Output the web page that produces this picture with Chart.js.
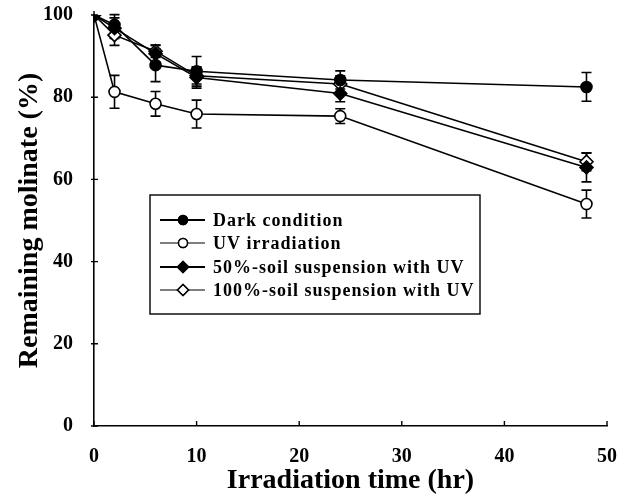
<!DOCTYPE html>
<html>
<head>
<meta charset="utf-8">
<script src="https://cdn.jsdelivr.net/npm/chart.js@4.4.1/dist/chart.umd.min.js"></script>
<style>
  html, body { margin: 0; padding: 0; background: #fff; }
  #wrap { width: 633px; height: 500px; }
</style>
</head>
<body>
<div id="wrap"><canvas id="c" width="633" height="500"></canvas></div>
<script>
// irradiation times (hr)
const hours = [0, 2, 6, 10, 24, 48]

// remaining molinate (%) and error bars
const darkValues = [100, 97.6, 87.8, 86.3, 84.2, 82.5]
const darkErr    = [0, 2.5, 4.0, 3.6, 2.2, 3.5]
const uvValues   = [100, 81.3, 78.4, 75.9, 75.4, 54.0]
const uvErr      = [0, 4.0, 3.0, 3.4, 1.8, 3.4]
const soil50Values = [100, 96.8, 90.6, 84.8, 80.9, 62.9]
const soil50Err    = [0, 2.5, 2.0, 2.6, 2.0, 3.5]
const soil100Values = [100, 95.1, 91.2, 85.2, 83.2, 64.3]
const soil100Err    = [0, 2.5, 1.5, 2.0, 2.0, 2.2]

const seriesNames = [
  'Dark condition',
  'UV irradiation',
  '50%-soil suspension with UV',
  '100%-soil suspension with UV'
]

const xTicks = [0, 10, 20, 30, 40, 50]
const yTicks = [0, 20, 40, 60, 80, 100]

const serif = "'Liberation Serif', 'DejaVu Serif', serif"

function toPoints(vals) {
  return hours.map((h, i) => ({ x: h, y: vals[i] }))
}

function makeSet(label, vals, errs, style, fill) {
  return {
    label: label,
    data: toPoints(vals),
    errors: errs,
    borderColor: '#000',
    borderWidth: 1.6,
    pointStyle: style,
    pointRadius: style === 'rectRot' ? 6.5 : 5.5,
    pointBackgroundColor: fill,
    pointBorderColor: '#000',
    pointBorderWidth: 1.6,
    tension: 0
  }
}

// error bars, drawn under the markers
const errorBars = {
  id: 'errorBars',
  beforeDatasetsDraw(chart) {
    const ctx = chart.ctx
    const xs = chart.scales.x, ys = chart.scales.y
    ctx.save()
    ctx.strokeStyle = '#000'
    ctx.lineWidth = 1.6
    chart.data.datasets.forEach(ds => {
      ds.data.forEach((p, i) => {
        const e = ds.errors[i]
        if (!e) return
        const px = xs.getPixelForValue(p.x)
        const top = ys.getPixelForValue(p.y + e)
        const bot = ys.getPixelForValue(p.y - e)
        ctx.beginPath()
        ctx.moveTo(px, top); ctx.lineTo(px, bot)
        ctx.moveTo(px - 5, top); ctx.lineTo(px + 5, top)
        ctx.moveTo(px - 5, bot); ctx.lineTo(px + 5, bot)
        ctx.stroke()
      })
    })
    ctx.restore()
  }
}

// small inward tick marks on both axes
const innerTicks = {
  id: 'innerTicks',
  afterDraw(chart) {
    const ctx = chart.ctx
    const xs = chart.scales.x, ys = chart.scales.y
    const a = chart.chartArea
    ctx.save()
    ctx.strokeStyle = '#000'
    ctx.lineWidth = 1.4
    ctx.beginPath()
    xTicks.forEach(v => {
      const px = xs.getPixelForValue(v)
      ctx.moveTo(px, a.bottom); ctx.lineTo(px, a.bottom - 5)
    })
    yTicks.forEach(v => {
      const py = ys.getPixelForValue(v)
      ctx.moveTo(a.left - 3, py); ctx.lineTo(a.left + 4, py)
    })
    // axis runs a little above 100
    ctx.moveTo(a.left, a.top); ctx.lineTo(a.left, a.top - 4)
    ctx.stroke()
    ctx.restore()
  }
}

// boxed legend inside the plot
const boxLegend = {
  id: 'boxLegend',
  afterDraw(chart) {
    const ctx = chart.ctx
    const left = 150, top = 195, right = 480, bottom = 314
    const rowY = [220, 243, 267, 290]
    ctx.save()
    ctx.fillStyle = '#fff'
    ctx.fillRect(left, top, right - left, bottom - top)
    ctx.strokeStyle = '#000'
    ctx.lineWidth = 1.4
    ctx.strokeRect(left, top, right - left, bottom - top)
    chart.data.datasets.forEach((ds, i) => {
      const y = rowY[i]
      ctx.beginPath()
      ctx.strokeStyle = '#000'
      ctx.lineWidth = i % 2 ? 1.2 : 1.8
      ctx.moveTo(160, y); ctx.lineTo(205, y)
      ctx.stroke()
      ctx.lineWidth = 1.5
      Chart.helpers.drawPoint(ctx, {
        pointStyle: ds.pointStyle,
        radius: ds.pointStyle === 'rectRot' ? 5.5 : 4.5,
        borderWidth: 1.5
      }, 183, y)
      ctx.fillStyle = ds.pointBackgroundColor
      ctx.fill()
      ctx.stroke()
      ctx.fillStyle = '#000'
      ctx.font = 'bold 18px ' + serif
      ctx.letterSpacing = '1px'
      ctx.textBaseline = 'middle'
      ctx.textAlign = 'left'
      ctx.fillText(seriesNames[i], 213, y + 1)
      ctx.letterSpacing = '0px'
    })
    ctx.restore()
  }
}

new Chart(document.getElementById('c'), {
  type: 'line',
  data: {
    datasets: [
      makeSet(seriesNames[0], darkValues, darkErr, 'circle', '#000'),
      makeSet(seriesNames[1], uvValues, uvErr, 'circle', '#fff'),
      makeSet(seriesNames[2], soil50Values, soil50Err, 'rectRot', '#000'),
      makeSet(seriesNames[3], soil100Values, soil100Err, 'rectRot', '#fff')
    ]
  },
  options: {
    responsive: false,
    animation: false,
    layout: { padding: { top: 0, right: 0, left: 13, bottom: 2 } },
    plugins: {
      legend: { display: false },
      tooltip: { enabled: false }
    },
    scales: {
      x: {
        type: 'linear',
        min: 0, max: 50,
        afterBuildTicks(s) { s.ticks = xTicks.map(v => ({ value: v })) },
        afterFit(s) { s.height = 72; s.paddingRight = 26; s.paddingLeft = 0 },
        grid: { display: false, drawTicks: false },
        border: { display: true, color: '#000', width: 1.6 },
        ticks: {
          padding: 19,
          color: '#000',
          font: { family: serif, size: 20, weight: 'bold' }
        },
        title: {
          display: true,
          text: 'Irradiation time (hr)',
          color: '#000',
          padding: { top: 0, bottom: 0 },
          font: { family: serif, size: 28, weight: 'bold' }
        }
      },
      y: {
        min: 0, max: 100,
        afterBuildTicks(s) { s.ticks = yTicks.map(v => ({ value: v })) },
        afterFit(s) { s.width = 81; s.paddingTop = 15; s.paddingBottom = 0 },
        grid: { display: false, drawTicks: false },
        border: { display: true, color: '#000', width: 1.6 },
        ticks: {
          padding: 21,
          color: '#000',
          font: { family: serif, size: 20, weight: 'bold' }
        },
        title: {
          display: true,
          text: 'Remaining molinate (%)',
          color: '#000',
          padding: { top: 0, bottom: 0 },
          font: { family: serif, size: 28, weight: 'bold' }
        }
      }
    }
  },
  plugins: [errorBars, innerTicks, boxLegend]
})
</script>
</body>
</html>
